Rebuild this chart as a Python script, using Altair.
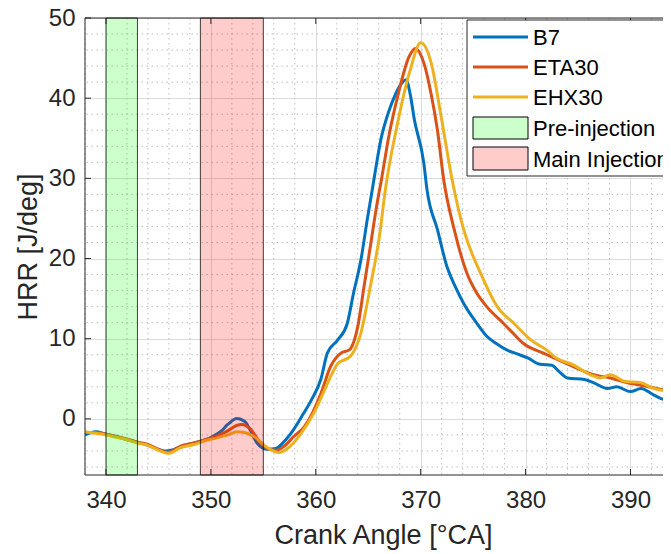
import altair as alt
import pandas as pd

# ---------------- data ----------------
b7_x = [338, 339, 340, 341, 342, 343, 344, 345, 345.6, 346.5, 347.1, 348.4, 349.5, 350.3, 351, 351.6,
        352.5, 353.2, 353.8, 354.4, 355.4, 356.2, 357, 357.9, 358.8, 359.6, 360.5, 361.1, 362.1, 363.0,
        363.6, 364.3, 364.9, 365.5, 366.2, 367.0, 367.5, 368.0, 368.6, 369.0, 369.4, 370.3, 370.6, 371.6,
        372.5, 373.3, 374.1, 375.2, 376.3, 377.2, 378.2, 379.2, 380.2, 381.4, 382.5, 383.2, 384.0, 385.6,
        386.5, 387.8, 388.7, 390.0, 391.0, 392.2, 393.3, 394]
b7_y = [-2.0, -1.6, -1.9, -2.2, -2.6, -2.9, -3.3, -3.8, -4.0, -3.8, -3.5, -3.0, -2.6, -2.1, -1.5, -0.7,
        0.05, -0.3, -1.5, -3.0, -3.8, -3.7, -2.8, -1.3, 0.6, 2.4, 5.0, 8.2, 9.85, 11.9,
        15.7, 19.8, 24.8, 29.5, 34.8, 38.5, 40.2, 41.5, 42.3, 40.5, 37.3, 31.9, 28.6, 23.6,
        19.0, 16.5, 14.4, 12.2, 10.3, 9.4, 8.6, 8.1, 7.6, 6.8, 6.7, 5.9, 5.1, 4.9,
        4.5, 3.8, 4.0, 3.4, 3.8, 3.0, 2.4, 2.9]

eta_x = [338, 339, 340, 341, 342, 343, 344, 345, 345.9, 347.1, 348.4, 349.5, 350.5, 351.6, 352.5, 352.9,
         353.8, 354.6, 355.6, 356.3, 357, 357.9, 358.9, 360.5, 361.4, 362.4, 363.2, 364.0, 364.6, 365.2,
         365.9, 366.2, 367.0, 367.8, 368.9, 369.5, 370.3, 371.0, 371.6, 372.2, 373.2, 374.4, 375.3, 376.3,
         377.9, 378.8, 379.8, 381.7, 382.7, 384.6, 386.5, 388.1, 389.7, 391.0, 392.5, 394]
eta_y = [-1.7, -1.7, -1.9, -2.2, -2.5, -2.9, -3.2, -3.8, -4.2, -3.4, -3.0, -2.6, -2.2, -1.5, -0.8, -0.7,
         -1.3, -2.8, -3.8, -3.9, -3.4, -2.2, -1.0, 3.2, 6.5, 8.2, 8.6, 11.5, 16.5, 21.5,
         27.3, 29.4, 35.5, 40.2, 45.2, 46.2, 44.4, 40.5, 36.0, 29.8, 23.6, 18.2, 15.8, 14.0,
         11.9, 10.7, 9.4, 8.2, 7.6, 6.5, 5.5, 5.1, 4.5, 4.2, 3.8, 3.4]

ehx_x = [338, 339, 340, 341, 342, 343, 344, 345, 346, 347.1, 348.4, 349.5, 350.5, 351.6, 352.5, 353.2,
         354.1, 355.4, 356.5, 357.3, 358.6, 359.8, 360.8, 361.5, 362.1, 363.3, 364.3, 365.2, 366.2, 366.5,
         367.8, 369.0, 370.0, 371.0, 371.9, 373.0, 374.1, 375.7, 377.3, 378.9, 380.5, 382.2, 382.7, 384.6,
         386.2, 387.1, 388.1, 389.4, 391.0, 392.2, 394]
ehx_y = [-1.6, -1.8, -2.0, -2.3, -2.6, -3.0, -3.3, -3.9, -4.3, -3.6, -3.2, -2.7, -2.4, -2.0, -1.6, -1.7,
         -2.2, -3.6, -4.2, -3.7, -1.8, 0.7, 3.5, 5.5, 6.9, 7.8, 10.7, 16.5, 24.0, 27.3,
         36.9, 43.5, 46.9, 44.4, 38.1, 29.8, 23.6, 18.2, 14.0, 11.9, 9.85, 8.4, 7.8, 6.7,
         5.5, 5.1, 5.5, 4.7, 4.5, 3.8, 3.4]

series_names = ["B7", "ETA30", "EHX30"]
series_colors = ["#0072BD", "#D95319", "#EDB120"]

band_names = ["Pre-injection", "Main Injection"]
band_start = [340, 349]
band_end = [343, 355]
band_colors = ["#00ff00", "#ff0000"]

x_ticks = [340, 350, 360, 370, 380, 390]
y_ticks = [0, 10, 20, 30, 40, 50]
x_minor = [338, 342, 344, 346, 348, 352, 354, 356, 358, 362, 364, 366, 368, 372, 374, 376, 378,
           382, 384, 386, 388, 392]
y_minor = [-6, -4, -2, 2, 4, 6, 8, 12, 14, 16, 18, 22, 24, 26, 28, 32, 34, 36, 38, 42, 44, 46, 48]

# ---------------- tables ----------------
rows = []
for name, xs, ys in [("B7", b7_x, b7_y), ("ETA30", eta_x, eta_y), ("EHX30", ehx_x, ehx_y)]:
    for i, (a, b) in enumerate(zip(xs, ys)):
        rows.append({"series": name, "ca": a, "hrr": b, "order": i})
lines_df = pd.DataFrame(rows)
bands_df = pd.DataFrame({"name": band_names, "start": band_start, "end": band_end, "color": band_colors})

W, H = 578, 457
FONT = "Liberation Sans"
TXT = "#262626"

xscale = alt.Scale(domain=[338, 393.1], nice=False, zero=False)
yscale = alt.Scale(domain=[-7, 50], nice=False, zero=False)

minor_x = alt.Chart(pd.DataFrame({"v": x_minor})).mark_rule(
    color="#bdbdbd", strokeDash=[1.5, 3.5], strokeWidth=1
).encode(x=alt.X("v:Q", scale=xscale, title="Crank Angle [°CA]"))

minor_y = alt.Chart(pd.DataFrame({"v": y_minor})).mark_rule(
    color="#bdbdbd", strokeDash=[1.5, 3.5], strokeWidth=1
).encode(y=alt.Y("v:Q", scale=yscale, title="HRR [J/deg]"))

lines = alt.Chart(lines_df).mark_line(strokeWidth=3, interpolate="monotone", clip=True).encode(
    x=alt.X("ca:Q", scale=xscale,
            axis=alt.Axis(values=x_ticks, title="Crank Angle [°CA]", titleX=298, titleAnchor="middle")),
    y=alt.Y("hrr:Q", scale=yscale,
            axis=alt.Axis(values=y_ticks, title="HRR [J/deg]")),
    color=alt.Color("series:N", scale=alt.Scale(domain=series_names, range=series_colors), legend=None),
    order="order:Q",
)

bands = alt.Chart(bands_df).mark_rect(fillOpacity=0.2, stroke="#000000", strokeOpacity=0.75, strokeWidth=1).encode(
    x="start:Q", x2="end:Q",
    y=alt.value(0), y2=alt.value(H),
    fill=alt.Fill("color:N", scale=None),
)

# inward ticks (MATLAB style)
xt_df = pd.DataFrame({"v": x_ticks})
yt_df = pd.DataFrame({"v": y_ticks})
tick_bottom = alt.Chart(xt_df).mark_rule(color=TXT, strokeWidth=1).encode(
    x=alt.X("v:Q", scale=xscale), y=alt.value(H), y2=alt.value(H - 6))
tick_top = alt.Chart(xt_df).mark_rule(color=TXT, strokeWidth=1).encode(
    x=alt.X("v:Q", scale=xscale), y=alt.value(0), y2=alt.value(6))
tick_left = alt.Chart(yt_df).mark_rule(color=TXT, strokeWidth=1).encode(
    y=alt.Y("v:Q", scale=yscale), x=alt.value(0), x2=alt.value(6))

# box: left, bottom, top (right edge is beyond the visible area)
one = pd.DataFrame({"k": [0]})
box_left = alt.Chart(one).mark_rule(color=TXT, strokeWidth=1).encode(
    x=alt.value(0), y=alt.value(0), y2=alt.value(H))
box_bottom = alt.Chart(one).mark_rule(color=TXT, strokeWidth=1).encode(
    x=alt.value(0), x2=alt.value(W + 20), y=alt.value(H))
box_top = alt.Chart(one).mark_rule(color=TXT, strokeWidth=1).encode(
    x=alt.value(0), x2=alt.value(W + 20), y=alt.value(0))

# ---------------- legend box (drawn inside plot, top-right) ----------------
LX = 382
leg_box = alt.Chart(one).mark_rect(fill="white", stroke="#262626", strokeWidth=1).encode(
    x=alt.value(LX), x2=alt.value(LX + 300), y=alt.value(2), y2=alt.value(158)
)
leg_layers = [leg_box]
line_y = [19, 49, 79]
for name, col, yy in zip(series_names, series_colors, line_y):
    leg_layers.append(alt.Chart(one).mark_rule(color=col, strokeWidth=3).encode(
        x=alt.value(LX + 6), x2=alt.value(LX + 61), y=alt.value(yy)))
    leg_layers.append(alt.Chart(one).mark_text(align="left", baseline="middle", font=FONT,
                                               fontSize=22, color="#000000").encode(
        x=alt.value(LX + 66), y=alt.value(yy + 1), text=alt.value(name)))
sq_y = [(99, 121), (129, 152)]
for name, col, (y1, y2) in zip(band_names, band_colors, sq_y):
    leg_layers.append(alt.Chart(one).mark_rect(fill=col, fillOpacity=0.2, stroke="#000000", strokeWidth=1).encode(
        x=alt.value(LX + 6), x2=alt.value(LX + 61), y=alt.value(y1), y2=alt.value(y2)))
    leg_layers.append(alt.Chart(one).mark_text(align="left", baseline="middle", font=FONT,
                                               fontSize=22, color="#000000").encode(
        x=alt.value(LX + 66), y=alt.value((y1 + y2) / 2 + 1), text=alt.value(name)))

chart = alt.layer(minor_x, minor_y, lines, bands, tick_bottom, tick_top, tick_left,
                  box_left, box_bottom, box_top, *leg_layers).properties(
    width=W, height=H,
    autosize=alt.AutoSizeParams(type="none"),
    padding={"left": 77, "top": 10, "right": 0, "bottom": 79},
).configure_view(
    strokeWidth=0
).configure_axis(
    grid=True, gridColor="#dcdcdc", gridWidth=1, domain=False, ticks=False,
    labelFont=FONT, titleFont=FONT, labelFontSize=24, titleFontSize=27,
    labelColor=TXT, titleColor=TXT, titleFontWeight="normal",
).configure_axisX(
    labelPadding=13, titlePadding=10
).configure_axisY(
    labelPadding=10, titlePadding=6
)

chart.save("out.html", embed_options={"renderer": "svg", "actions": False})
